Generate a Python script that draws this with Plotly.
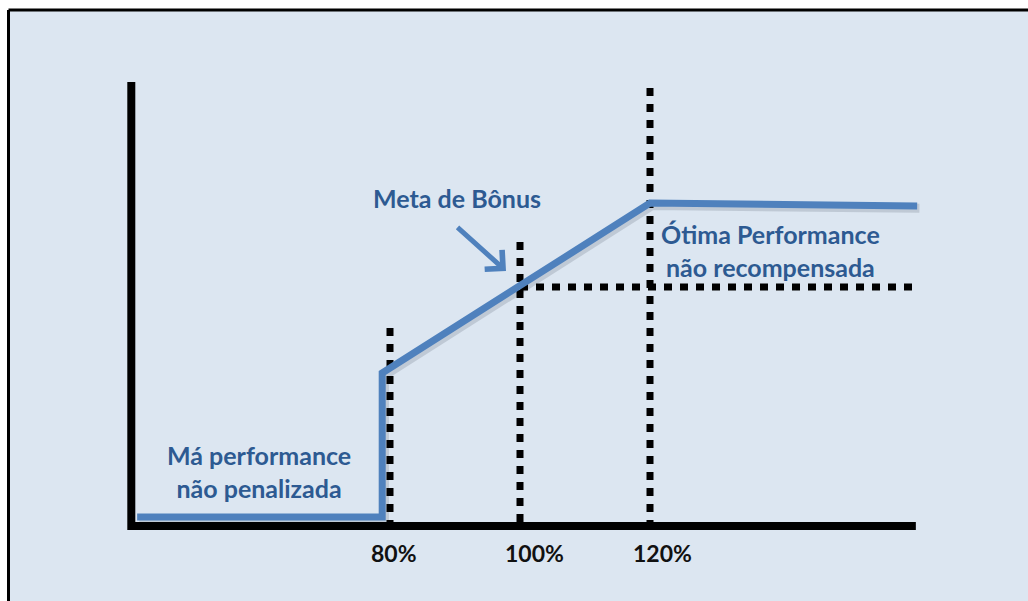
import plotly.graph_objects as go

# ---- data -------------------------------------------------------------
# bonus curve: performance (% of target) vs bonus paid
perf = [41.1, 78.8, 78.8, 120, 161.1]
bonus = [3.8, 3.8, 64, 135.1, 133.9]

# reference markers
marker_pct = [80, 100, 120]
marker_top = [82.8, 118.8, 183.3]
tick_labels = ["80%", "100%", "120%"]
target_bonus = 100
target_end = 161.1

# axis extents
axis_x = [40.2, 160.9]
axis_y_top = 185.8

# ---- scale setup --------------------------------------------------------
W, H = 1028, 601
PX_PER_PCT = 6.5
PCT_ORIGIN_PX = 390 - 80 * PX_PER_PCT
PX_PER_UNIT = 2.39
ZERO_PY = 526

def X(px):
    return (px - PCT_ORIGIN_PX) / PX_PER_PCT

def Y(py):
    return (ZERO_PY - py) / PX_PER_UNIT

BLUE = "#4f81bd"
TEXT_BLUE = "#2d5a92"
BG = "#dce6f1"
DOT = "8px,8px"

fig = go.Figure()

# soft drop shadow under the curve
fig.add_trace(go.Scatter(
    x=[p + 0.35 for p in perf], y=[b - 1.0 for b in bonus], mode="lines",
    line=dict(color="rgba(60,70,90,0.18)", width=9), hoverinfo="skip"))

# black axes
fig.add_trace(go.Scatter(x=[axis_x[0], axis_x[0]], y=[axis_y_top, -1.7], mode="lines",
                         line=dict(color="#000", width=8), hoverinfo="skip"))
fig.add_trace(go.Scatter(x=[axis_x[0] - 0.5, axis_x[1]], y=[0, 0], mode="lines",
                         line=dict(color="#000", width=8), hoverinfo="skip"))

# dotted markers
for p, top in zip(marker_pct, marker_top):
    fig.add_trace(go.Scatter(x=[p, p], y=[top, 0], mode="lines",
                             line=dict(color="#000", width=7, dash=DOT), hoverinfo="skip"))
fig.add_trace(go.Scatter(x=[marker_pct[1], target_end], y=[target_bonus, target_bonus], mode="lines",
                         line=dict(color="#000", width=7, dash=DOT), hoverinfo="skip"))

# bonus curve
fig.add_trace(go.Scatter(x=perf, y=bonus, mode="lines",
                         line=dict(color=BLUE, width=7), hoverinfo="skip"))

annotations = []
for p, lab, dx in zip(marker_pct, tick_labels, [4, 14, 12]):
    annotations.append(dict(x=p, y=Y(553), text="<b>" + lab + "</b>", showarrow=False, xshift=dx,
                            font=dict(family="Lato", size=23, color="#111"),
                            xanchor="center", yanchor="middle"))

def label(px, py, text):
    annotations.append(dict(x=X(px), y=Y(py), text=text, showarrow=False,
                            font=dict(family="Lato", size=25, color=TEXT_BLUE),
                            xanchor="center", yanchor="middle", align="center"))

label(457, 198, "<b>Meta de Bônus</b>")
label(770, 250, "<b>Ótima Performance</b><br><b>não recompensada</b>")
label(259, 471, "<b>Má performance</b><br><b>não penalizada</b>")

# pointer arrow to the target
annotations.append(dict(x=X(506), y=Y(271), ax=X(456), ay=Y(226), axref="x", ayref="y",
                        text="", showarrow=True, arrowhead=4, arrowsize=1.0,
                        arrowwidth=5, arrowcolor=BLUE))

shapes = [
    # panel background with black top/left frame
    dict(type="rect", xref="paper", yref="paper", x0=8 / W, x1=1.01, y0=-0.01, y1=1 - 10 / H,
         fillcolor=BG, line=dict(width=0), layer="below"),
    dict(type="line", xref="paper", yref="paper", x0=8.5 / W, x1=1, y0=1 - 10 / H, y1=1 - 10 / H,
         line=dict(color="#000", width=3), layer="below"),
    dict(type="line", xref="paper", yref="paper", x0=8.5 / W, x1=8.5 / W, y0=0, y1=1 - 10 / H,
         line=dict(color="#000", width=3), layer="below"),
]

fig.update_layout(
    width=W, height=H, margin=dict(l=0, r=0, t=0, b=0),
    paper_bgcolor="white", plot_bgcolor="rgba(0,0,0,0)",
    showlegend=False, annotations=annotations, shapes=shapes,
    xaxis=dict(range=[X(0), X(W)], visible=False, fixedrange=True),
    yaxis=dict(range=[Y(H), Y(0)], visible=False, fixedrange=True),
)

fig.write_html("out.html", config={"displayModeBar": False})
